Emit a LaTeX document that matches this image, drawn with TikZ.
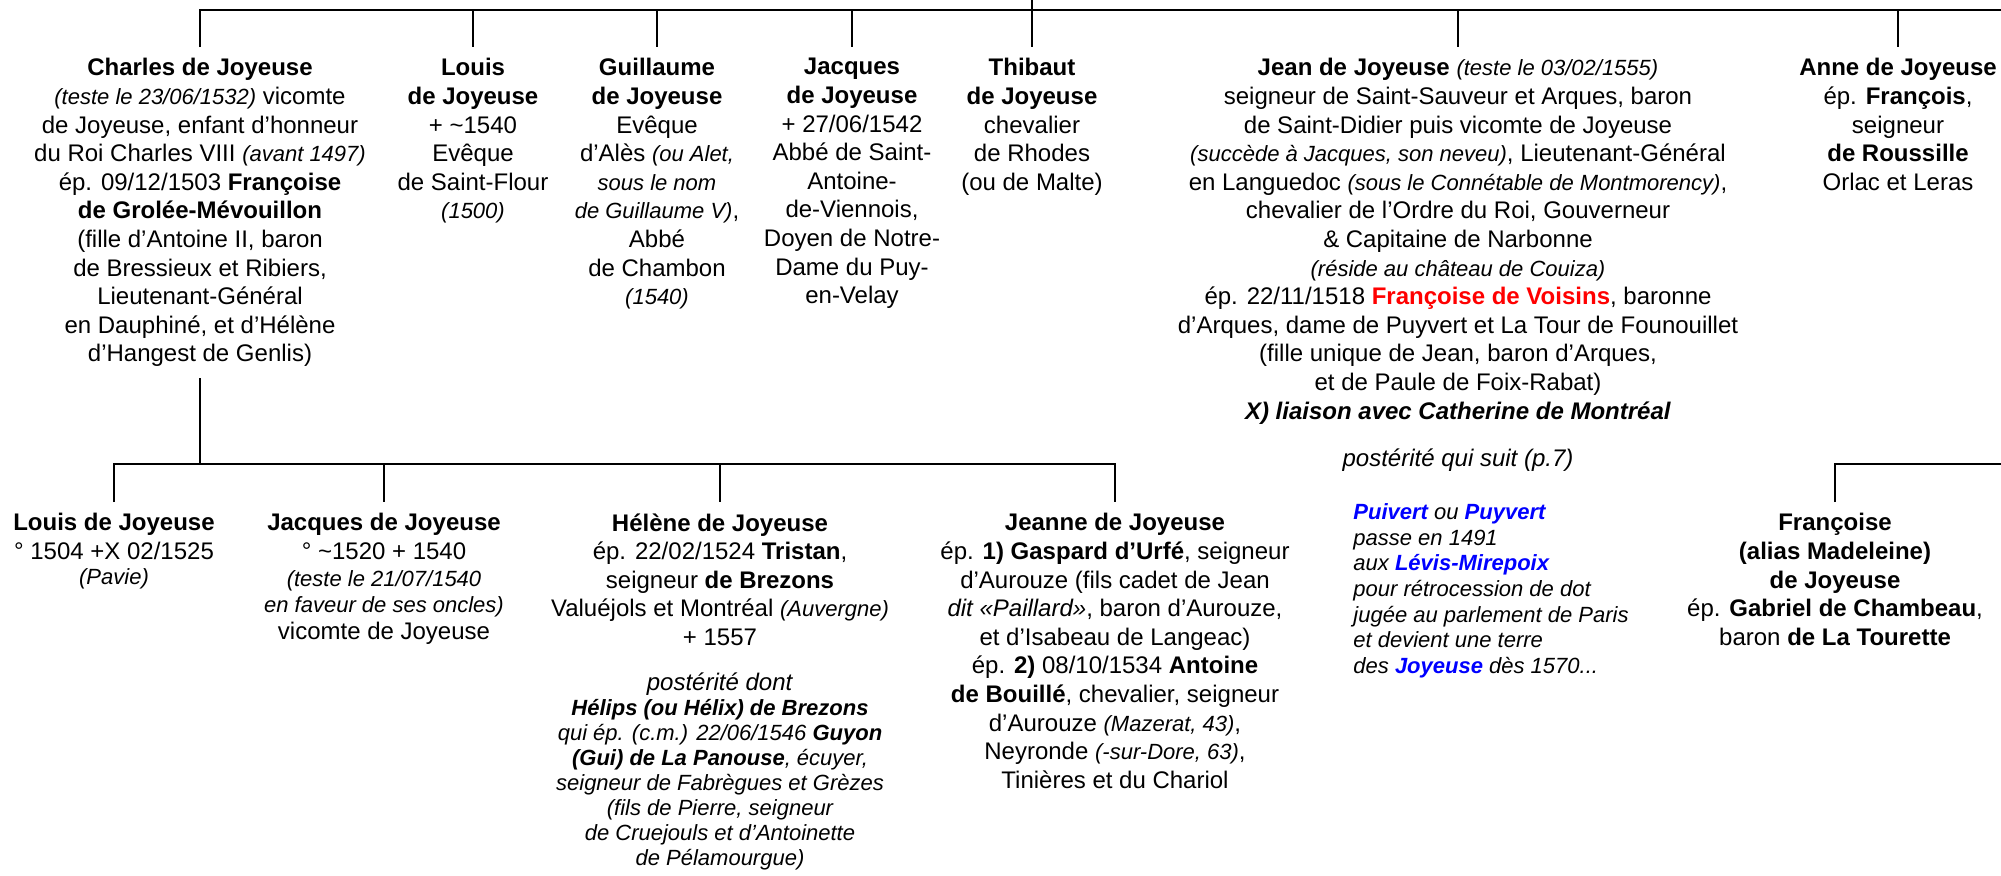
\documentclass[tikz,border=0pt]{standalone}
\usepackage{fontspec}
\setmainfont{Liberation Sans}
\usepackage{tikz}
\newcommand{\annot}[1]{{\fontsize{11pt}{12.8pt}\selectfont\itshape #1}}
\newcommand{\bleu}[1]{{\color{blue}\bfseries\itshape #1}}
\newcommand{\rouge}[1]{{\color{red}\bfseries #1}}
\tikzset{
	personne/.style = {align=center, inner xsep=0pt, inner ysep=5.5pt, anchor=north, font=\fontsize{12pt}{14.3pt}\selectfont},
	renvoi/.style = {align=left, inner sep=0pt, anchor=north west, font=\fontsize{11pt}{12.85pt}\selectfont\itshape},
	suite/.style = {inner sep=0pt, anchor=base, font=\fontsize{12pt}{14.3pt}\selectfont\itshape},
	lien/.style = {line width=1.4pt}
}

\begin{document}
\begin{tikzpicture}[x=0.5pt, y=-0.5pt]
\useasboundingbox (0,0) rectangle (2001,875);
\coordinate (parent) at (1032,0);
\coordinate (haut) at (0,10);
\coordinate (hautE) at (2001,10);
\coordinate (bas) at (0,464);
\coordinate (basE) at (2001,464);

\node [personne] (charles) at (200,47) {\textbf{Charles de Joyeuse}\\
	\annot{(teste le 23/06/1532)} vicomte\\
	de Joyeuse, enfant d’honneur\\
	du Roi Charles VIII \annot{(avant 1497)}\\
	ép. 09/12/1503 \textbf{Françoise}\\
	\textbf{de Grolée-Mévouillon}\\
	(fille d’Antoine II, baron\\
	de Bressieux et Ribiers,\\
	Lieutenant-Général\\
	en Dauphiné, et d’Hélène\\
	d’Hangest de Genlis)};
\node [personne] (louis) at (473,47) {\textbf{Louis}\\
	\textbf{de Joyeuse}\\
	+ \textasciitilde1540\\
	Evêque\\
	de Saint-Flour\\
	\annot{(1500)}};
\node [personne] (guillaume) at (657,47) {\textbf{Guillaume}\\
	\textbf{de Joyeuse}\\
	Evêque\\
	d’Alès \annot{(ou Alet,}\\
	\annot{sous le nom}\\
	\annot{de Guillaume V)},\\
	Abbé\\
	de Chambon\\
	\annot{(1540)}};
\node [personne] (jacques) at (852,47) {\textbf{Jacques}\\
	\textbf{de Joyeuse}\\
	+ 27/06/1542\\
	Abbé de Saint-\\
	Antoine-\\
	de-Viennois,\\
	Doyen de Notre-\\
	Dame du Puy-\\
	en-Velay};
\node [personne] (thibaut) at (1032,47) {\textbf{Thibaut}\\
	\textbf{de Joyeuse}\\
	chevalier\\
	de Rhodes\\
	(ou de Malte)};
\node [personne] (jean) at (1458,47) {\textbf{Jean de Joyeuse} \annot{(teste le 03/02/1555)}\\
	seigneur de Saint-Sauveur et Arques, baron\\
	de Saint-Didier puis vicomte de Joyeuse\\
	\annot{(succède à Jacques, son neveu)}, Lieutenant-Général\\
	en Languedoc \annot{(sous le Connétable de Montmorency)},\\
	chevalier de l’Ordre du Roi, Gouverneur\\
	\& Capitaine de Narbonne\\
	\annot{(réside au château de Couiza)}\\
	ép. 22/11/1518 \rouge{Françoise de Voisins}, baronne\\
	d’Arques, dame de Puyvert et La Tour de Founouillet\\
	(fille unique de Jean, baron d’Arques,\\
	et de Paule de Foix-Rabat)\\
	\textbf{\textit{X) liaison avec Catherine de Montréal}}};
\node [personne] (anne) at (1898,47) {\textbf{Anne de Joyeuse}\\
	ép. \textbf{François},\\
	seigneur\\
	\textbf{de Roussille}\\
	Orlac et Leras};

\node [suite] (posterite) at (1458,466) {postérité qui suit (p.7)};
\node [renvoi] (puivert) at (1353,503) {\bleu{Puivert} ou \bleu{Puyvert}\\
	passe en 1491\\
	aux \bleu{Lévis-Mirepoix}\\
	pour rétrocession de dot\\
	jugée au parlement de Paris\\
	et devient une terre\\
	des \bleu{Joyeuse} dès 1570...};

\node [personne] (louisb) at (114,502) {\textbf{Louis de Joyeuse}\\
	° 1504 +X 02/1525\\[-2pt]
	\annot{(Pavie)}};
\node [personne] (jacquesb) at (384,502) {\textbf{Jacques de Joyeuse}\\
	° \textasciitilde1520 + 1540\\[-1pt]
	\annot{(teste le 21/07/1540}\\[-1pt]
	\annot{en faveur de ses oncles)}\\[-1pt]
	vicomte de Joyeuse};
\node [personne] (helene) at (720,502) {\textbf{Hélène de Joyeuse}\\
	ép. 22/02/1524 \textbf{Tristan},\\
	seigneur \textbf{de Brezons}\\
	Valuéjols et Montréal \annot{(Auvergne)}\\
	+ 1557\\[8pt]
	\textit{postérité dont}\\[-1.8pt]
	\annot{\bfseries Hélips (ou Hélix) de Brezons}\\[-1.8pt]
	\annot{qui ép. (c.m.) 22/06/1546 \bfseries Guyon}\\[-1.8pt]
	\annot{\bfseries (Gui) de La Panouse}\annot{, écuyer,}\\[-1.8pt]
	\annot{seigneur de Fabrègues et Grèzes}\\[-1.8pt]
	\annot{(fils de Pierre, seigneur}\\[-1.8pt]
	\annot{de Cruejouls et d’Antoinette}\\[-1.8pt]
	\annot{de Pélamourgue)}};
\node [personne] (jeanne) at (1115,502) {\textbf{Jeanne de Joyeuse}\\
	ép. \textbf{1) Gaspard d’Urfé}, seigneur\\
	d’Aurouze (fils cadet de Jean\\
	\textit{dit «Paillard»}, baron d’Aurouze,\\
	et d’Isabeau de Langeac)\\
	ép. \textbf{2)} 08/10/1534 \textbf{Antoine}\\
	\textbf{de Bouillé}, chevalier, seigneur\\
	d’Aurouze \annot{(Mazerat, 43)},\\
	Neyronde \annot{(-sur-Dore, 63)},\\
	Tinières et du Chariol};
\node [personne] (francoise) at (1835,502) {\textbf{Françoise}\\
	\textbf{(alias Madeleine)}\\
	\textbf{de Joyeuse}\\
	ép. \textbf{Gabriel de Chambeau},\\
	baron \textbf{de La Tourette}};

\draw [lien] (parent) -- (thibaut.north);
\draw [lien] (charles.north) |- (hautE);
\draw [lien] (louis.north |- haut) -- (louis.north);
\draw [lien] (guillaume.north |- haut) -- (guillaume.north);
\draw [lien] (jacques.north |- haut) -- (jacques.north);
\draw [lien] (jean.north |- haut) -- (jean.north);
\draw [lien] (anne.north |- haut) -- (anne.north);

\draw [lien] (charles.south) -- (charles.south |- bas);
\draw [lien] (louisb.north) |- (jeanne.north |- bas) -- (jeanne.north);
\draw [lien] (jacquesb.north |- bas) -- (jacquesb.north);
\draw [lien] (helene.north |- bas) -- (helene.north);
\draw [lien] (francoise.north) |- (basE);
\end{tikzpicture}
\end{document}
